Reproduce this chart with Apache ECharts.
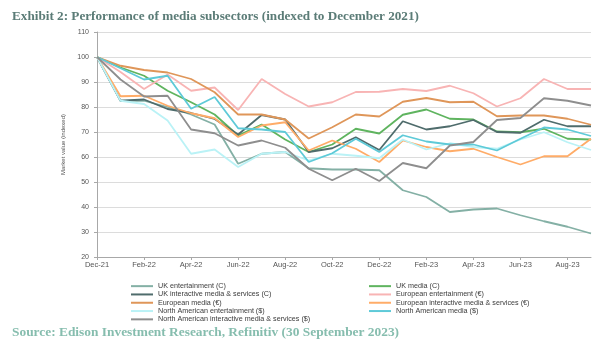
<!DOCTYPE html>
<html>
<head>
<meta charset="utf-8">
<script src="https://cdn.jsdelivr.net/npm/echarts@6/dist/echarts.min.js"></script>
<style>
  html, body { margin: 0; padding: 0; background: #fff; }
  #chart { width: 600px; height: 352px; }
</style>
</head>
<body>
<div id="chart"></div>
<script>
const months = ['Dec-21', 'Jan-22', 'Feb-22', 'Mar-22', 'Apr-22', 'May-22', 'Jun-22', 'Jul-22', 'Aug-22', 'Sep-22', 'Oct-22',
  'Nov-22', 'Dec-22', 'Jan-23', 'Feb-23', 'Mar-23', 'Apr-23', 'May-23', 'Jun-23', 'Jul-23', 'Aug-23', 'Sep-23'];

const ukEntertainment = [100, 82.5, 82.5, 80, 77, 73, 57.3, 61.3, 62, 55.5, 55, 55, 54.7, 46.7, 44, 38, 39, 39.4, 36.7, 34.3, 32.1, 29.4];
const ukMedia = [100, 95.8, 92.5, 86.5, 81.9, 77, 68.6, 73, 67, 62, 65, 71.3, 69.4, 76.9, 79, 75.3, 75, 70.2, 69.9, 71.3, 67.3, 67];
const ukInteractive = [100, 82.5, 83, 79.2, 77.6, 75.2, 69, 76.8, 75, 62, 63.5, 67.9, 62.8, 74.3, 71, 72.3, 74.8, 70, 69.7, 74.9, 72.3, 72.3];
const euEntertainment = [100, 94, 87.2, 93, 86.5, 87.8, 78.8, 91.2, 85.2, 80.2, 81.9, 86, 86.1, 87.2, 86.4, 88.5, 85.5, 80.2, 83.5, 91.2, 87.2, 87.2];
const euMedia = [100, 96.5, 94.8, 93.8, 91.2, 85.9, 77, 77, 75, 67.4, 71.9, 77, 76.2, 82.1, 83.6, 81.9, 82.1, 76.3, 76.6, 76.6, 75.3, 72.9];
const euInteractive = [100, 84.3, 84.5, 80.5, 77.5, 75.5, 68, 72.6, 73.9, 62.6, 66.6, 63.3, 58, 66.6, 64, 62.3, 63.3, 60, 57, 60.3, 60.3, 67.3];
const naEntertainment = [100, 82.5, 81.2, 74.6, 61.3, 63, 56, 61.3, 62, 58.6, 61.3, 60.5, 59.5, 67, 63, 65.5, 64, 63.3, 67, 69.9, 65.9, 62.8];
const naMedia = [100, 95.5, 91, 92.5, 79.3, 84, 71.5, 71, 70, 58, 61.5, 67.3, 62, 68.7, 66.2, 65, 65, 62.6, 67.3, 71.8, 71, 68.4];
const naInteractive = [100, 91, 84.2, 84.5, 71, 69.5, 64.6, 66.6, 63.7, 55.3, 50.7, 55.3, 50.4, 57.6, 55.5, 64.6, 66, 74.8, 75.6, 83.5, 82.5, 80.6];

const names = [
  'UK entertainment (C)', 'UK media (C)', 'UK interactive media & services (C)',
  'European entertainment (€)', 'European media (€)', 'European interactive media & services (€)',
  'North American entertainment ($)', 'North American media ($)', 'North American interactive media & services ($)'
];
const values = [ukEntertainment, ukMedia, ukInteractive, euEntertainment, euMedia, euInteractive,
  naEntertainment, naMedia, naInteractive];
const colors = ['#84b0a5', '#5fb45f', '#4f6c6c', '#f8b4b4', '#df9659', '#ffac68', '#baf2f6', '#5ecad8', '#8e8e8e'];

const chart = echarts.init(document.getElementById('chart'));

const legendText = { fontSize: 7.2, color: '#3a3a3a', lineHeight: 8.3, fontFamily: 'Liberation Sans' };

chart.setOption({
  animation: false,
  color: colors,
  title: [
    {
      text: 'Exhibit 2: Performance of media subsectors (indexed to December 2021)',
      left: 7,
      top: 5,
      textStyle: { fontFamily: 'Liberation Serif', fontWeight: 'bold', fontSize: 13.2, color: '#5b7c77' }
    },
    {
      text: 'Source: Edison Investment Research, Refinitiv (30 September 2023)',
      left: 7,
      top: 321,
      textStyle: { fontFamily: 'Liberation Serif', fontWeight: 'bold', fontSize: 13.4, color: '#86bdae' }
    }
  ],
  legend: [
    {
      orient: 'vertical',
      left: 126,
      top: 277,
      icon: 'rect',
      itemWidth: 22,
      itemHeight: 2,
      itemGap: 0,
      textStyle: legendText,
      data: [names[0], names[2], names[4], names[6], names[8]]
    },
    {
      orient: 'vertical',
      left: 364,
      top: 277,
      icon: 'rect',
      itemWidth: 22,
      itemHeight: 2,
      itemGap: 0,
      textStyle: legendText,
      data: [names[1], names[3], names[5], names[7]]
    }
  ],
  grid: { left: 97, right: 9, top: 32, bottom: 95 },
  xAxis: {
    type: 'category',
    boundaryGap: false,
    data: months,
    axisLine: { lineStyle: { color: '#a8a8a8' } },
    axisTick: { interval: 1, length: 3, lineStyle: { color: '#a8a8a8' } },
    axisLabel: { interval: 1, fontSize: 7.5, color: '#555', margin: 4, fontFamily: 'Liberation Sans' }
  },
  yAxis: {
    type: 'value',
    min: 20,
    max: 110,
    interval: 10,
    name: 'Market value (indexed)',
    nameLocation: 'middle',
    nameGap: 23,
    nameTextStyle: { fontSize: 6, color: '#555', fontFamily: 'Liberation Sans' },
    axisLine: { show: true, lineStyle: { color: '#a8a8a8' } },
    axisTick: { show: true, length: 3, lineStyle: { color: '#a8a8a8' } },
    axisLabel: { fontSize: 7, color: '#555', margin: 8, fontFamily: 'Liberation Sans' },
    splitLine: { lineStyle: { color: '#dcdcdc', width: 1 } }
  },
  series: names.map((name, i) => ({
    name: name,
    type: 'line',
    data: values[i],
    symbol: 'none',
    lineStyle: { width: 1.8 }
  }))
});
</script>
</body>
</html>
